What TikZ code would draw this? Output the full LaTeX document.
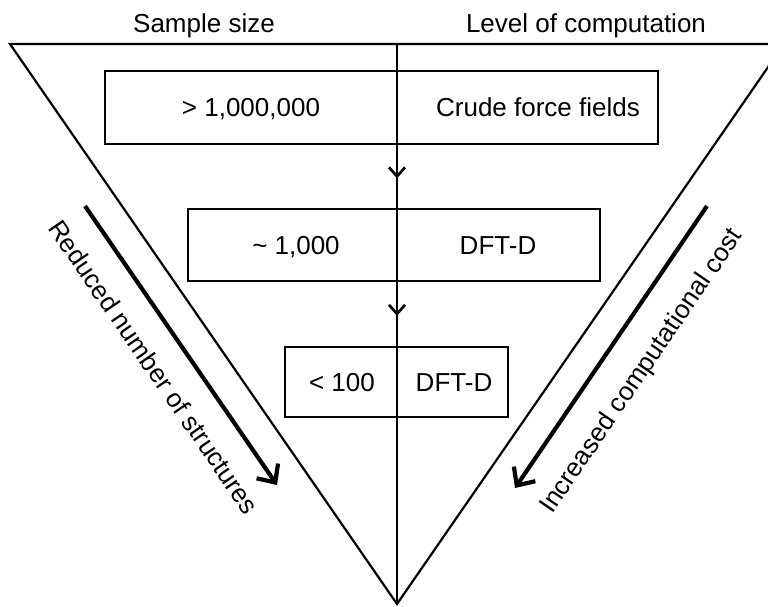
\documentclass[tikz,border=0pt]{standalone}
\usepackage{fontspec}
\setmainfont{Liberation Sans}
\usetikzlibrary{arrows.meta,decorations.markings}
\begin{document}
\begin{tikzpicture}[x=1pt,y=-1pt,
  lbl/.style={font=\fontsize{26}{30}\selectfont, text height=18.6pt, text depth=0pt, inner sep=0pt},
  edge/.style={line width=2.2pt, line cap=round, line join=miter},
  cline/.style={line width=2.7pt},
  boxnode/.style={draw, line width=2.7pt, inner sep=0pt},
  midarrow/.style={decoration={markings, mark=at position 0.53 with {\arrow{Straight Barb[length=9pt,width=16pt]}}}, postaction={decorate}},
  bigarrow/.style={line width=4.2pt, -{Straight Barb[length=14pt,width=26pt]}}
]
\useasboundingbox (0,0) rectangle (768,606);
\clip (0,0) rectangle (768,606);
\fill[white] (0,0) rectangle (768,606);

% triangle
\coordinate (tl) at (10,44);
\coordinate (tr) at (784,44);
\coordinate (apex) at (397,604);
\coordinate (top) at (397,44);
\draw[edge] (tl) -- (tr) -- (apex) -- cycle;

% column headings
\node[lbl] (hs) at (204,23.5) {Sample size};
\node[lbl] (hl) at (586,23.5) {Level of computation};

% boxes
\node[boxnode, minimum width=553pt, minimum height=73pt] (b1) at (381.5,107.5) {};
\node[boxnode, minimum width=412pt, minimum height=72pt] (b2) at (394,245) {};
\node[boxnode, minimum width=223pt, minimum height=70pt] (b3) at (396.5,382) {};

\node[lbl] (t1a) at (251,107.5) {> 1,000,000};
\node[lbl] (t1b) at (538,107.5) {Crude force fields};
\node[lbl] (t2a) at (296,245) {\textasciitilde\ 1,000};
\node[lbl] (t2b) at (498,245) {DFT-D};
\node[lbl] (t3a) at (342,382) {< 100};
\node[lbl] (t3b) at (454,382) {DFT-D};

% centre line with arrows
\draw[cline] (top) -- (top |- b1.north);
\draw[cline] (top |- b1.north) -- (top |- b1.south);
\draw[cline, midarrow] (top |- b1.south) -- (top |- b2.north);
\draw[cline] (top |- b2.north) -- (top |- b2.south);
\draw[cline, midarrow] (top |- b2.south) -- (top |- b3.north);
\draw[cline] (top |- b3.north) -- (top |- b3.south);
\draw[cline] (top |- b3.south) -- (apex);

% side arrows
\coordinate (la1) at (85,206);
\coordinate (la2) at (277,485);
\coordinate (ra1) at (707,206);
\coordinate (ra2) at (515,488);
\draw[bigarrow] (la1) -- (la2);
\draw[bigarrow] (ra1) -- (ra2);
\node[lbl, rotate=-55.5] (ll) at (154,367) {Reduced number of structures};
\node[lbl, rotate=55.7] (rl) at (640,370) {Increased computational cost};
\end{tikzpicture}
\end{document}
